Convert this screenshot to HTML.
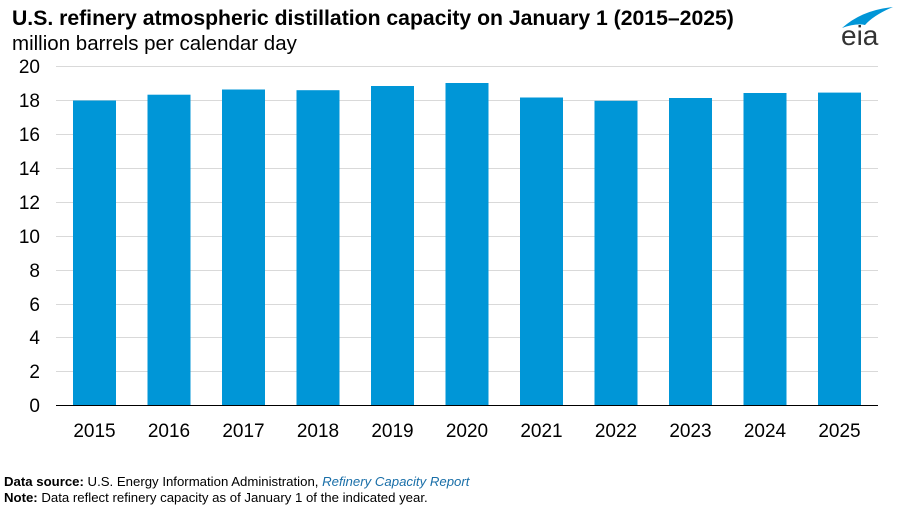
<!DOCTYPE html>
<html><head><meta charset="utf-8"><style>
body{margin:0;background:#fff;width:901px;height:507px;overflow:hidden;font-family:"Liberation Sans",Arial,sans-serif}
</style></head><body>
<svg width="901" height="507" xmlns="http://www.w3.org/2000/svg" font-family="Liberation Sans, Arial, sans-serif">
<text x="12" y="25" font-size="21.2" font-weight="bold" fill="#000">U.S. refinery atmospheric distillation capacity on January 1 (2015–2025)</text>
<text x="12" y="50" font-size="20.5" fill="#000">million barrels per calendar day</text>
<g stroke="#d9d9d9" stroke-width="1">
<line x1="56" x2="878" y1="66.5" y2="66.5"/><line x1="56" x2="878" y1="100.5" y2="100.5"/>
<line x1="56" x2="878" y1="134.5" y2="134.5"/><line x1="56" x2="878" y1="168.5" y2="168.5"/>
<line x1="56" x2="878" y1="202.5" y2="202.5"/><line x1="56" x2="878" y1="236.5" y2="236.5"/>
<line x1="56" x2="878" y1="270.5" y2="270.5"/><line x1="56" x2="878" y1="304.5" y2="304.5"/>
<line x1="56" x2="878" y1="337.5" y2="337.5"/><line x1="56" x2="878" y1="371.5" y2="371.5"/>
</g>
<g font-size="19" fill="#000" text-anchor="end">
<text x="40" y="73">20</text><text x="40" y="107">18</text><text x="40" y="141">16</text><text x="40" y="175">14</text><text x="40" y="209">12</text><text x="40" y="243">10</text><text x="40" y="277">8</text><text x="40" y="311">6</text><text x="40" y="344">4</text><text x="40" y="378">2</text><text x="40" y="412">0</text>
</g>
<g fill="#0096d7">
<rect x="73" y="100.5" width="43" height="304.5"/>
<rect x="147.5" y="94.7" width="43" height="310.3"/>
<rect x="222" y="89.5" width="43" height="315.5"/>
<rect x="296.5" y="90.2" width="43" height="314.8"/>
<rect x="371" y="86" width="43" height="319"/>
<rect x="445.5" y="83" width="43" height="322"/>
<rect x="520" y="97.5" width="43" height="307.5"/>
<rect x="594.5" y="100.8" width="43" height="304.2"/>
<rect x="669" y="98" width="43" height="307"/>
<rect x="743.5" y="93" width="43" height="312"/>
<rect x="818" y="92.6" width="43" height="312.4"/>
</g>
<line x1="56" x2="878" y1="405.5" y2="405.5" stroke="#000" stroke-width="1"/>
<g font-size="19" fill="#000" text-anchor="middle">
<text x="94.5" y="437">2015</text><text x="169" y="437">2016</text><text x="243.5" y="437">2017</text><text x="318" y="437">2018</text><text x="392.5" y="437">2019</text><text x="467" y="437">2020</text><text x="541.5" y="437">2021</text><text x="616" y="437">2022</text><text x="690.5" y="437">2023</text><text x="765" y="437">2024</text><text x="839.5" y="437">2025</text>
</g>
<text x="4" y="486" font-size="13.2" fill="#000"><tspan font-weight="bold">Data source:</tspan> U.S. Energy Information Administration, <tspan fill="#1a6fa8" font-style="italic">Refinery Capacity Report</tspan></text>
<text x="4" y="502" font-size="13.2" fill="#000"><tspan font-weight="bold">Note:</tspan> Data reflect refinery capacity as of January 1 of the indicated year.</text>
<path d="M842 28 Q862 10 893 7 Q874 15 865 25 Q856 23 842 28Z" fill="#0096d7"/>
<text x="841" y="45" font-size="28" fill="#333">eia</text>
</svg>
</body></html>
